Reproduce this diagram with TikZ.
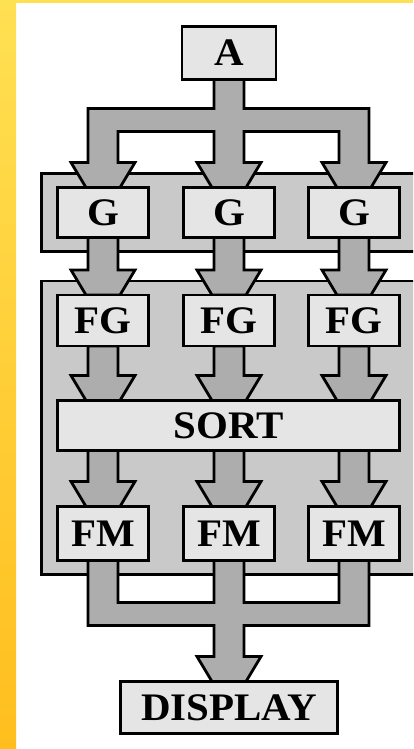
\documentclass[tikz,border=0pt]{standalone}
\usepackage{fontspec}
\setmainfont{Liberation Serif}[FakeStretch=1.05]
\usetikzlibrary{fit,calc}

\definecolor{boxgray}{gray}{0.9}
\definecolor{groupgray}{gray}{0.79}
\definecolor{arrowgray}{gray}{0.68}
\definecolor{stripTop}{RGB}{255,224,82}
\definecolor{stripBottom}{RGB}{255,190,30}

% arrow head pointing down onto (#1,#2)
\newcommand{\headat}[2]{(#1-15pt,#2+25pt) -- (#1-32pt,#2+25pt) -- (#1-17pt,#2) -- (#1+17pt,#2) -- (#1+32pt,#2+25pt) -- (#1+15pt,#2+25pt)}

\pgfdeclarelayer{back}
\pgfdeclarelayer{mid}
\pgfsetlayers{back,mid,main}

\tikzset{
  unit/.style={draw, fill=boxgray, line width=2.8pt, outer sep=0pt, inner sep=0pt,
    minimum width=91pt, minimum height=51pt, font=\fontsize{39}{42}\selectfont\bfseries},
  group/.style={outer sep=0pt, inner xsep=16pt, inner ysep=14pt},
  groupbox/.style={draw, fill=groupgray, line width=2.8pt},
  arrowbody/.style={draw, fill=arrowgray, line width=2.8pt, line join=miter},
  blockarrow/.style={arrowbody, to path={let \p1=(\tikztostart), \p2=(\tikztotarget) in
    (\x1-15pt,\y1) -- \headat{\x1}{\y2} -- (\x1+15pt,\y1) -- cycle}}
}

\begin{document}
\begin{tikzpicture}[x=1pt,y=-1pt]
  \useasboundingbox (0,0) rectangle (413,749);

  % Define the boxes
  \node[unit, minimum width=94pt, minimum height=53pt] (a) at (229,53) {A};
  \foreach \i/\colx in {1/103, 2/229, 3/354} {
    \node[unit, minimum height=50pt] (g\i) at (\colx,212.5) {G};
    \node[unit] (fg\i) at (\colx,320.5) {FG};
    \node[unit, minimum height=54pt] (fm\i) at (\colx,533.5) {FM};
  }
  \node[unit, minimum width=342pt, minimum height=50pt] (sort) at (228.5,425.5) {SORT};
  \node[unit, minimum width=217pt, minimum height=52pt] (disp) at (229,707.5) {DISPLAY};

  % Draw the block arrows
  \begin{pgfonlayer}{mid}
    \draw[arrowbody] let \p1=(g1.north), \p2=(g2.north), \p3=(g3.north), \p4=(a.south) in
      (\x4-15pt,\y4) -- (\x4-15pt,\y4-29pt) -- (\x1-15pt,\y4-29pt) -- \headat{\x1}{\y1}
      -- (\x1+15pt,\y4-52pt) -- (\x2-15pt,\y4-52pt) -- \headat{\x2}{\y2}
      -- (\x2+15pt,\y4-52pt) -- (\x3-15pt,\y4-52pt) -- \headat{\x3}{\y3}
      -- (\x3+15pt,\y4-29pt) -- (\x4+15pt,\y4-29pt) -- (\x4+15pt,\y4) -- cycle;
    \foreach \i in {1,2,3} {
      \draw[blockarrow] (g\i.south) to (fg\i.north);
      \draw[blockarrow] (fg\i.south) to (fg\i.south |- sort.north);
      \draw[blockarrow] (fm\i.north |- sort.south) to (fm\i.north);
    }
    \draw[arrowbody] let \p1=(fm1.south), \p2=(fm2.south), \p3=(fm3.south), \p4=(disp.north) in
      (\x1-15pt,\y1) -- (\x1-15pt,\y1-65pt) -- (\x4-15pt,\y1-65pt) -- \headat{\x4}{\y4}
      -- (\x4+15pt,\y1-65pt) -- (\x3+15pt,\y1-65pt) -- (\x3+15pt,\y3) -- (\x3-15pt,\y3)
      -- (\x3-15pt,\y1-42pt) -- (\x2+15pt,\y1-42pt) -- (\x2+15pt,\y2) -- (\x2-15pt,\y2)
      -- (\x2-15pt,\y1-42pt) -- (\x1+15pt,\y1-42pt) -- (\x1+15pt,\y1) -- cycle;
  \end{pgfonlayer}

  % Background, strips and the two stages
  \begin{pgfonlayer}{back}
    \clip (0,0) rectangle (413,749);
    \fill[white] (0,0) rectangle (413,749);
    \shade[top color=stripTop, bottom color=stripBottom] (0,0) rectangle (16,749);
    \fill[stripTop] (0,0) rectangle (413,3);
    \node[group, fit=(g1)(g3)] (stage1) {};
    \node[group, fit=(fg1)(fm3)] (stage2) {};
    \draw[groupbox] (stage1.north west) rectangle ([xshift=50pt]stage1.south east);
    \draw[groupbox] (stage2.north west) rectangle ([xshift=50pt]stage2.south east);
  \end{pgfonlayer}
\end{tikzpicture}
\end{document}
